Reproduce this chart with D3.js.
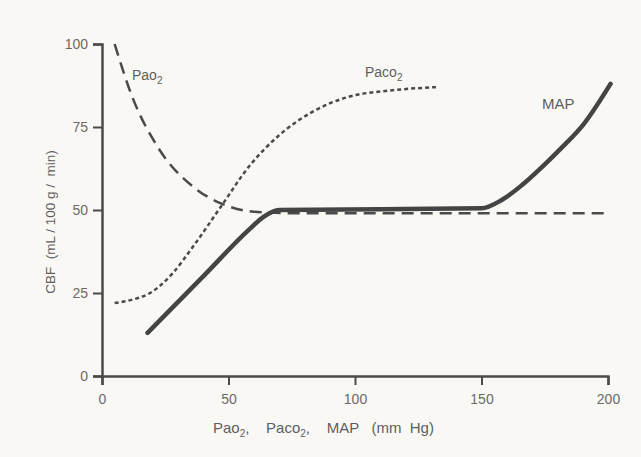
<!DOCTYPE html>
<html>
<head>
  <script src="https://d3js.org/d3.v7.min.js"></script>
  <style>
    body { margin: 0; background: #faf8f5; }
    svg { display: block; }
    text { font-family: 'Liberation Sans', Arial, sans-serif; fill: #5e5e5e; white-space: pre; }
  </style>
</head>
<body>
  <div id="chart"></div>
  <script>
    // curves: [x in mm Hg, CBF]
    const pao2 = [[5, 100], [12, 84], [22, 69], [36, 57], [47, 52], [60, 49.5], [80, 49], [199, 49]];
    const paco2 = [[5, 22], [12, 23], [19, 25], [28, 31], [36, 39], [47, 51], [58, 63], [70, 72.5],
                   [83, 79.5], [97, 84], [114, 86], [132, 87]];
    const map = [[18, 13], [40, 30], [58, 44], [64, 48], [70, 50], [150, 50.5], [158, 53], [166, 57.5],
                 [174, 63], [182, 69], [190, 75.5], [201, 88]];
    const xTicks = [0, 50, 100, 150, 200];
    const yTicks = [0, 25, 50, 75, 100];

    const width = 641, height = 457;

    const svg = d3.select("#chart").append("svg")
      .attr("width", width)
      .attr("height", height);

    const x = d3.scaleLinear().domain([0, 200]).range([102, 608]);
    const y = d3.scaleLinear().domain([0, 100]).range([376, 44]);

    const line = d3.line()
      .x(d => x(d[0]))
      .y(d => y(d[1]))
      .curve(d3.curveMonotoneX);

    // axes
    const xAxis = svg.append("g")
      .attr("transform", `translate(0,${y(0)})`)
      .call(d3.axisBottom(x).tickValues(xTicks).tickSize(9).tickSizeOuter(9).tickPadding(9));
    const yAxis = svg.append("g")
      .attr("transform", `translate(${x(0)},0)`)
      .call(d3.axisLeft(y).tickValues(yTicks).tickSize(9).tickSizeOuter(9).tickPadding(5));

    [xAxis, yAxis].forEach(g => {
      g.attr("font-size", null).attr("font-family", null);
      g.select(".domain").attr("stroke", "#4a4a4a").attr("stroke-width", 2.5);
      g.selectAll(".tick line").attr("stroke", "#4a4a4a").attr("stroke-width", 2);
      g.selectAll(".tick text")
        .style("font-size", "14px")
        .style("fill", "#6a6a6a");
    });

    // curves
    svg.append("path").datum(pao2)
      .attr("d", line)
      .attr("fill", "none")
      .attr("stroke", "#4a4a4a")
      .attr("stroke-width", 2.5)
      .attr("stroke-dasharray", "12,7");

    svg.append("path").datum(paco2)
      .attr("d", line)
      .attr("fill", "none")
      .attr("stroke", "#4a4a4a")
      .attr("stroke-width", 2.5)
      .attr("stroke-dasharray", "4,3");

    svg.append("path").datum(map)
      .attr("d", line)
      .attr("fill", "none")
      .attr("stroke", "#444")
      .attr("stroke-width", 4.5)
      .attr("stroke-linecap", "round");

    // curve labels
    function subLabel(px, py, base, sub) {
      const t = svg.append("text")
        .attr("x", px).attr("y", py)
        .style("font-size", "14px");
      t.append("tspan").text(base);
      t.append("tspan").attr("dy", 4).style("font-size", "10px").text(sub);
      return t;
    }
    subLabel(132, 80, "Pao", "2");
    subLabel(365, 77, "Paco", "2");
    svg.append("text")
      .attr("x", 542).attr("y", 109)
      .style("font-size", "15px")
      .text("MAP");

    // axis titles
    svg.append("text")
      .attr("transform", "translate(55,222) rotate(-90)")
      .attr("text-anchor", "middle")
      .style("font-size", "13.5px")
      .text("CBF  (mL / 100 g /  min)");

    const xt = svg.append("text")
      .attr("x", 213).attr("y", 433)
      .style("font-size", "15px");
    xt.append("tspan").text("Pao");
    xt.append("tspan").attr("dy", 4).style("font-size", "10px").text("2");
    xt.append("tspan").attr("dy", -4).text(",    Paco");
    xt.append("tspan").attr("dy", 4).style("font-size", "10px").text("2");
    xt.append("tspan").attr("dy", -4).text(",    MAP   (mm  Hg)");
  </script>
</body>
</html>
